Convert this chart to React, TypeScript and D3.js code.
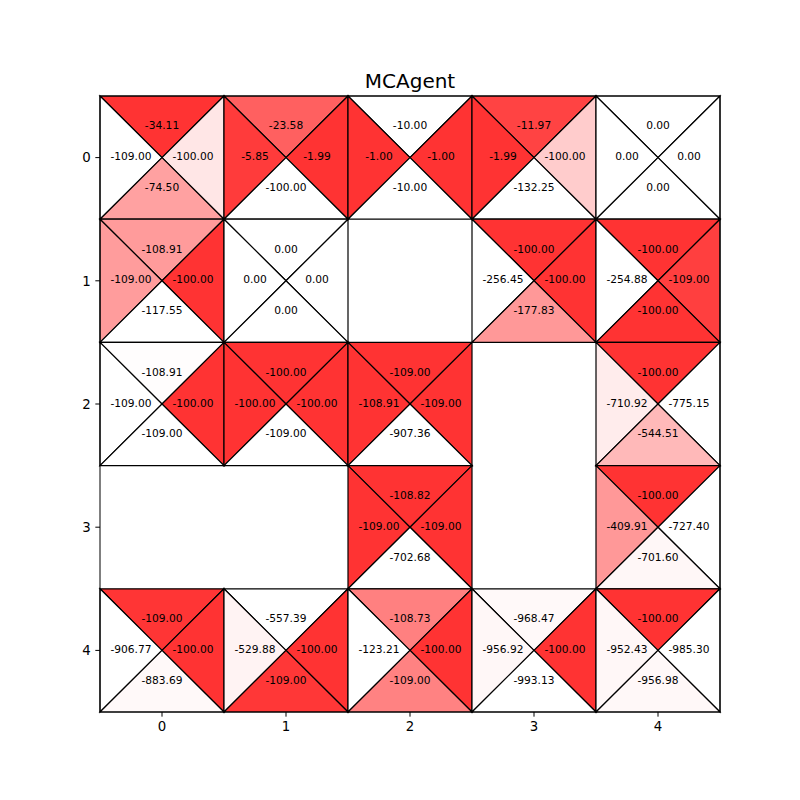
import React from "react";
import * as d3 from "d3";

const title = "MCAgent";
const rowsIdx = [0, 1, 2, 3, 4];
const colsIdx = [0, 1, 2, 3, 4];

// Q values per action for each cell [row][col]; null = empty cell
const qUp: (number | null)[][] = [
  [-34.11, -23.58, -10.0, -11.97, 0.0],
  [-108.91, 0.0, null, -100.0, -100.0],
  [-108.91, -100.0, -109.0, null, -100.0],
  [null, null, -108.82, null, -100.0],
  [-109.0, -557.39, -108.73, -968.47, -100.0],
];
const qLeft: (number | null)[][] = [
  [-109.0, -5.85, -1.0, -1.99, 0.0],
  [-109.0, 0.0, null, -256.45, -254.88],
  [-109.0, -100.0, -108.91, null, -710.92],
  [null, null, -109.0, null, -409.91],
  [-906.77, -529.88, -123.21, -956.92, -952.43],
];
const qRight: (number | null)[][] = [
  [-100.0, -1.99, -1.0, -100.0, 0.0],
  [-100.0, 0.0, null, -100.0, -109.0],
  [-100.0, -100.0, -109.0, null, -775.15],
  [null, null, -109.0, null, -727.4],
  [-100.0, -100.0, -100.0, -100.0, -985.3],
];
const qDown: (number | null)[][] = [
  [-74.5, -100.0, -10.0, -132.25, 0.0],
  [-117.55, 0.0, null, -177.83, -100.0],
  [-109.0, -109.0, -907.36, null, -544.51],
  [null, null, -702.68, null, -701.6],
  [-883.69, -109.0, -109.0, -993.13, -956.98],
];

const W = 800;
const H = 800;
const left = 100, right = 720, top = 96, bottom = 712;

export default function App() {
  const x = d3.scaleLinear().domain([-0.5, 4.5]).range([left, right]);
  const y = d3.scaleLinear().domain([-0.5, 4.5]).range([top, bottom]);
  const color = d3.interpolateRgb("#ffffff", "#ff3333");
  const font = "DejaVu Sans, sans-serif";

  const cells: React.ReactNode[] = [];
  rowsIdx.forEach((r) => {
    colsIdx.forEach((c) => {
      const u = qUp[r][c], l = qLeft[r][c], rt = qRight[r][c], dn = qDown[r][c];
      if (u === null || l === null || rt === null || dn === null) return;
      const vals = [u, l, rt, dn];
      const mn = d3.min(vals)!, mx = d3.max(vals)!;
      const norm = (v: number) => (mx === mn ? 0 : (v - mn) / (mx - mn));
      const x0 = x(c - 0.5), x1 = x(c + 0.5), y0 = y(r - 0.5), y1 = y(r + 0.5);
      const cx = x(c), cy = y(r);
      const tris = [
        { v: u, pts: [[x0, y0], [x1, y0], [cx, cy]], tx: cx, ty: y(r - 0.25) },
        { v: l, pts: [[x0, y0], [x0, y1], [cx, cy]], tx: x(c - 0.25), ty: cy },
        { v: rt, pts: [[x1, y0], [x1, y1], [cx, cy]], tx: x(c + 0.25), ty: cy },
        { v: dn, pts: [[x0, y1], [x1, y1], [cx, cy]], tx: cx, ty: y(r + 0.25) },
      ];
      tris.forEach((t, i) => {
        cells.push(
          <polygon
            key={`p-${r}-${c}-${i}`}
            points={t.pts.map((p) => p.join(",")).join(" ")}
            fill={color(norm(t.v))}
            stroke="#000"
            strokeWidth={1.2}
            strokeLinejoin="miter"
          />
        );
      });
      tris.forEach((t, i) => {
        cells.push(
          <text
            key={`t-${r}-${c}-${i}`}
            x={t.tx}
            y={t.ty - 1.3}
            dy="0.36em"
            textAnchor="middle"
            fontSize={10.67}
            fontFamily={font}
            fill="#000"
          >
            {t.v.toFixed(2)}
          </text>
        );
      });
    });
  });

  return (
    <svg width={W} height={H} style={{ position: "absolute", left: 0, top: 0, background: "#fff" }}>
      <rect x={0} y={0} width={W} height={H} fill="#fff" />
      {cells}
      <rect x={left} y={top} width={right - left} height={bottom - top} fill="none" stroke="#000" strokeWidth={1} />
      {colsIdx.map((c) => (
        <g key={`xt-${c}`}>
          <line x1={x(c)} x2={x(c)} y1={bottom} y2={bottom + 4.67} stroke="#000" strokeWidth={1} />
          <text x={x(c)} y={bottom + 9.3} dy="0.76em" textAnchor="middle" fontSize={13.33} fontFamily={font}>
            {c}
          </text>
        </g>
      ))}
      {rowsIdx.map((r) => (
        <g key={`yt-${r}`}>
          <line x1={left - 4.67} x2={left} y1={y(r)} y2={y(r)} stroke="#000" strokeWidth={1} />
          <text x={left - 9.3} y={y(r)} dy="0.36em" textAnchor="end" fontSize={13.33} fontFamily={font}>
            {r}
          </text>
        </g>
      ))}
      <text x={(left + right) / 2} y={top - 8} textAnchor="middle" fontSize={20} fontFamily={font}>
        {title}
      </text>
    </svg>
  );
}
